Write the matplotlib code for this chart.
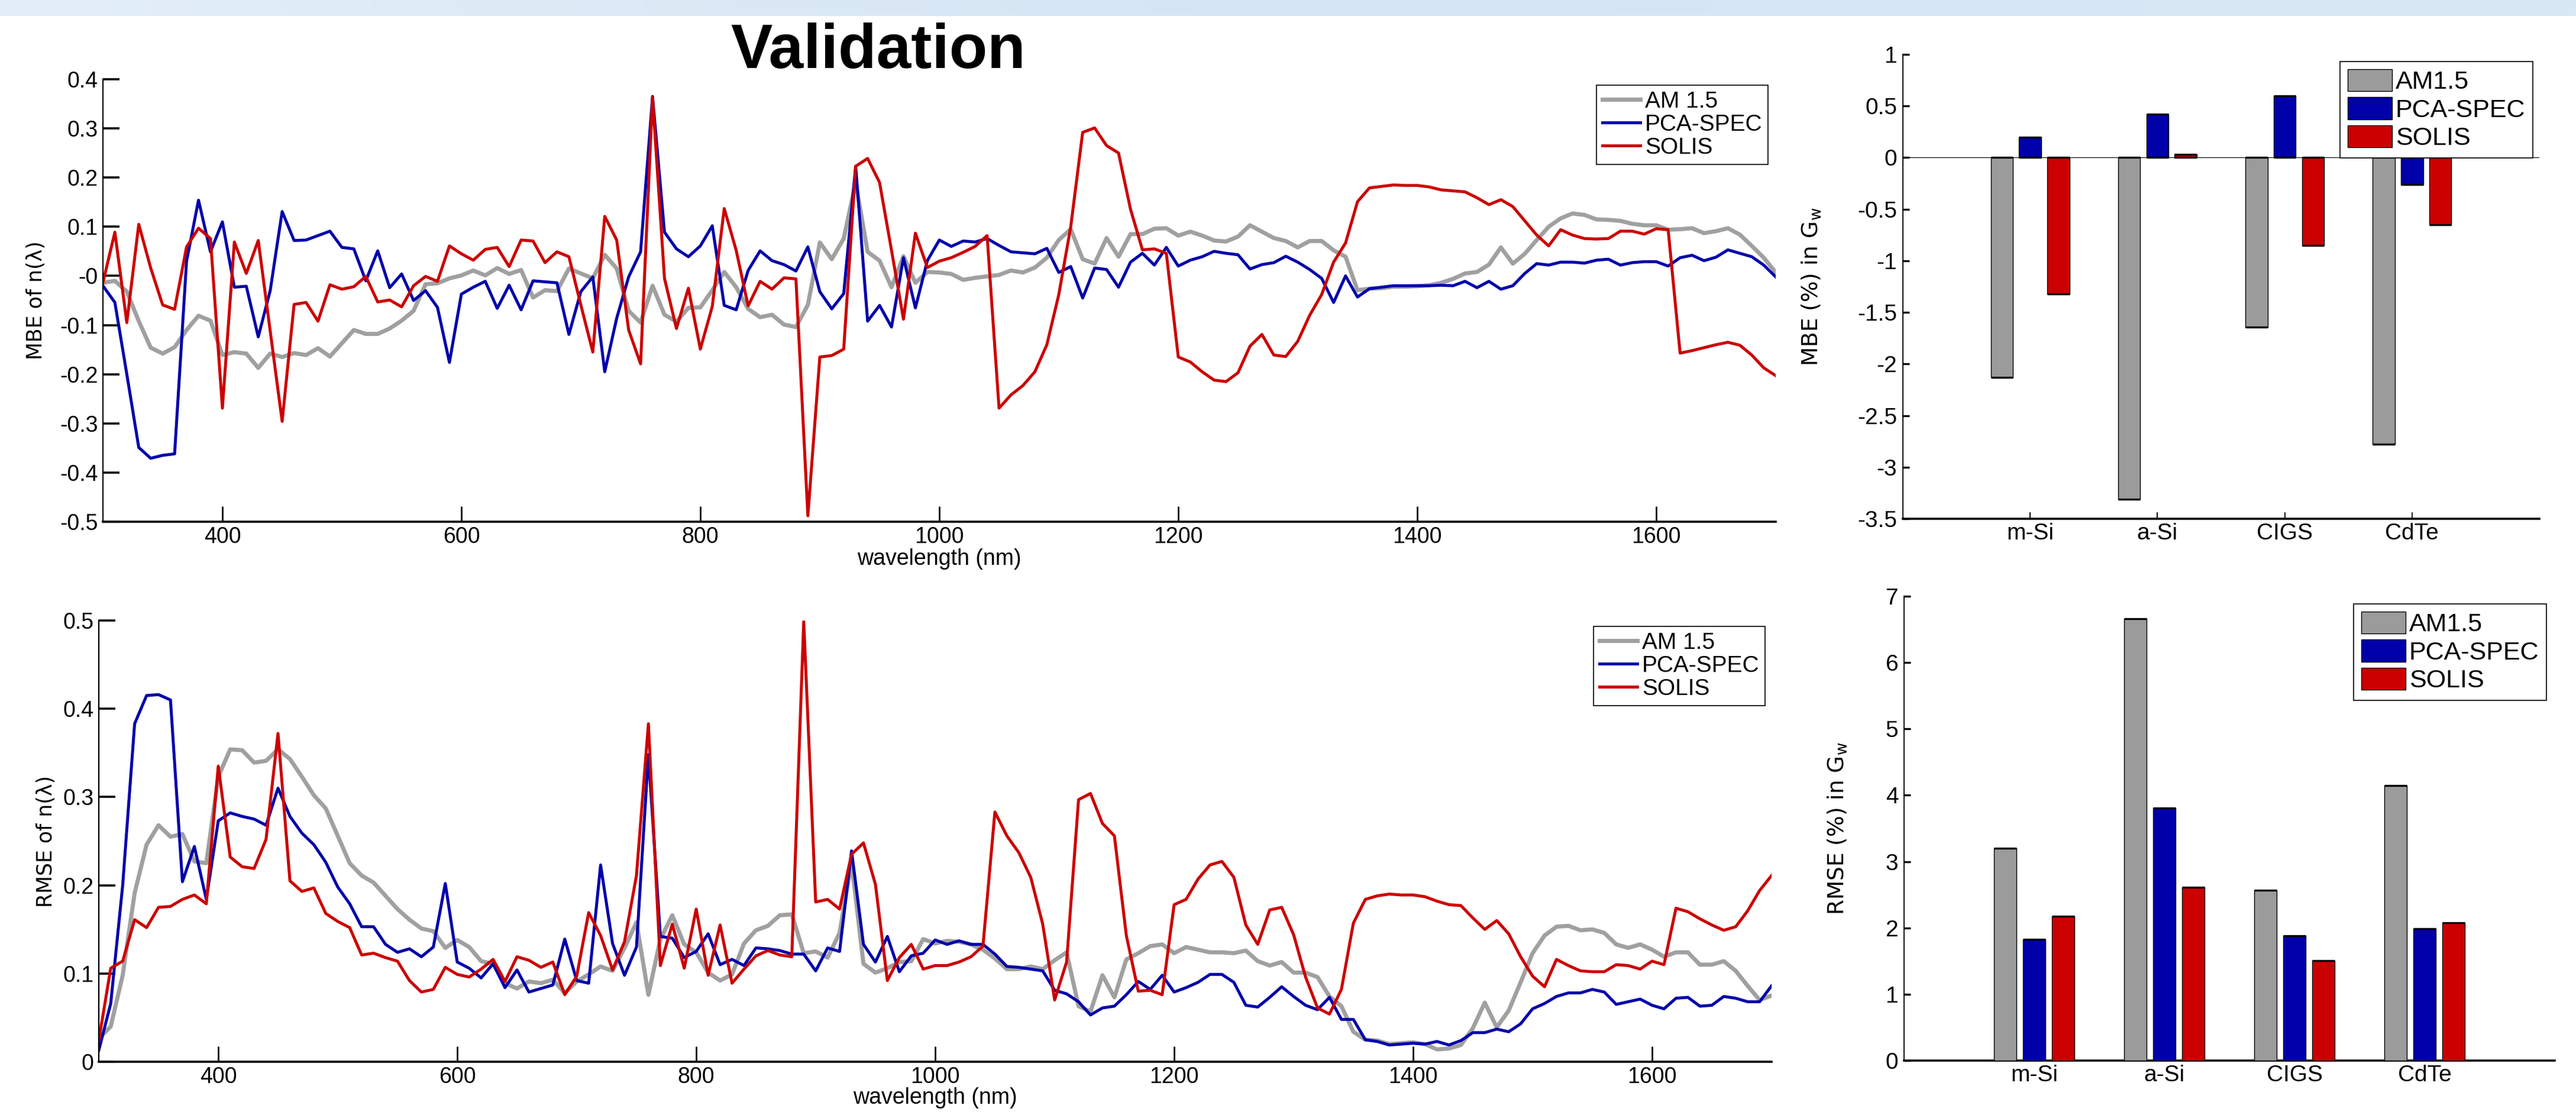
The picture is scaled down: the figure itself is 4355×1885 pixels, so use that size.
import numpy as np
import matplotlib
matplotlib.use("Agg")
import matplotlib.pyplot as plt
from matplotlib.ticker import FuncFormatter
from matplotlib.colors import LinearSegmentedColormap

plt.rcParams['font.family'] = ['Liberation Sans', 'DejaVu Sans']

# ---------------- data ----------------
wavelength = np.arange(300, 1701, 10)

mbe_am15 = [-0.014, -0.010, -0.032, -0.092, -0.146, -0.158, -0.145, -0.110, -0.081, -0.091,
            -0.161, -0.155, -0.158, -0.187, -0.158, -0.165, -0.157, -0.161, -0.147, -0.164,
            -0.137, -0.110, -0.118, -0.118, -0.107, -0.091, -0.071, -0.017, -0.015, -0.005,
            0.001, 0.011, 0.001, 0.016, 0.004, 0.012, -0.044, -0.029, -0.031, 0.015,
            0.005, -0.005, 0.043, 0.015, -0.071, -0.095, -0.020, -0.079, -0.093, -0.065,
            -0.064, -0.029, 0.008, -0.023, -0.067, -0.084, -0.079, -0.099, -0.104, -0.059,
            0.068, 0.034, 0.076, 0.190, 0.049, 0.031, -0.023, 0.040, -0.014, 0.008,
            0.007, 0.004, -0.008, -0.004, -0.001, 0.002, 0.011, 0.007, 0.017, 0.037,
            0.073, 0.095, 0.034, 0.025, 0.077, 0.039, 0.085, 0.085, 0.096, 0.097,
            0.082, 0.090, 0.082, 0.072, 0.070, 0.080, 0.103, 0.090, 0.077, 0.071,
            0.058, 0.071, 0.071, 0.052, 0.039, -0.029, -0.026, -0.025, -0.022, -0.022,
            -0.021, -0.019, -0.014, -0.006, 0.005, 0.008, 0.023, 0.058, 0.025, 0.045,
            0.073, 0.100, 0.117, 0.127, 0.124, 0.115, 0.114, 0.112, 0.106, 0.103,
            0.103, 0.094, 0.095, 0.097, 0.087, 0.091, 0.097, 0.084, 0.061, 0.037,
            0.007]

mbe_pca = [-0.020, -0.054, -0.200, -0.349, -0.371, -0.365, -0.362, 0.030, 0.154, 0.049,
           0.110, -0.023, -0.021, -0.124, -0.030, 0.131, 0.072, 0.073, 0.082, 0.091,
           0.058, 0.055, -0.010, 0.051, -0.024, 0.004, -0.050, -0.030, -0.064, -0.176,
           -0.037, -0.023, -0.011, -0.066, -0.019, -0.069, -0.010, -0.012, -0.014, -0.119,
           -0.032, -0.002, -0.195, -0.086, -0.002, 0.049, 0.365, 0.089, 0.055, 0.039,
           0.061, 0.102, -0.060, -0.069, 0.011, 0.051, 0.031, 0.023, 0.010, 0.059,
           -0.032, -0.067, -0.036, 0.223, -0.092, -0.060, -0.104, 0.037, -0.065, 0.031,
           0.073, 0.060, 0.071, 0.069, 0.076, 0.062, 0.049, 0.047, 0.045, 0.056,
           0.007, 0.019, -0.045, 0.016, 0.013, -0.023, 0.028, 0.046, 0.022, 0.058,
           0.020, 0.032, 0.039, 0.050, 0.046, 0.043, 0.014, 0.023, 0.027, 0.040,
           0.028, 0.013, -0.005, -0.054, 0.000, -0.043, -0.026, -0.023, -0.020, -0.020,
           -0.020, -0.020, -0.019, -0.020, -0.011, -0.024, -0.011, -0.027, -0.020, 0.005,
           0.025, 0.022, 0.028, 0.028, 0.026, 0.032, 0.034, 0.022, 0.027, 0.029,
           0.029, 0.020, 0.037, 0.042, 0.031, 0.038, 0.053, 0.046, 0.039, 0.022,
           -0.002]

mbe_solis = [-0.014, 0.089, -0.095, 0.105, 0.016, -0.059, -0.068, 0.059, 0.097, 0.076,
             -0.269, 0.069, 0.005, 0.072, -0.112, -0.296, -0.058, -0.054, -0.092, -0.018,
             -0.027, -0.022, -0.001, -0.053, -0.049, -0.063, -0.020, -0.001, -0.011, 0.061,
             0.045, 0.032, 0.054, 0.058, 0.019, 0.073, 0.071, 0.027, 0.049, 0.039,
             -0.059, -0.155, 0.121, 0.073, -0.110, -0.179, 0.363, -0.005, -0.107, -0.025,
             -0.149, -0.062, 0.137, 0.052, -0.061, -0.011, -0.027, -0.004, -0.006, -0.488,
             -0.165, -0.162, -0.149, 0.223, 0.239, 0.190, 0.052, -0.088, 0.087, 0.017,
             0.030, 0.037, 0.048, 0.060, 0.082, -0.269, -0.242, -0.223, -0.195, -0.140,
             -0.038, 0.100, 0.292, 0.301, 0.265, 0.250, 0.136, 0.053, 0.055, 0.046,
             -0.165, -0.175, -0.195, -0.212, -0.215, -0.197, -0.143, -0.119, -0.161, -0.164,
             -0.133, -0.080, -0.038, 0.028, 0.067, 0.151, 0.179, 0.182, 0.185, 0.184,
             0.184, 0.181, 0.175, 0.173, 0.171, 0.159, 0.145, 0.155, 0.141, 0.112,
             0.083, 0.061, 0.094, 0.083, 0.076, 0.075, 0.076, 0.091, 0.091, 0.085,
             0.096, 0.094, -0.157, -0.152, -0.146, -0.140, -0.135, -0.141, -0.161, -0.187,
             -0.203]

rmse_am15 = [0.026, 0.040, 0.098, 0.191, 0.246, 0.268, 0.255, 0.258, 0.227, 0.225,
             0.323, 0.354, 0.353, 0.339, 0.341, 0.354, 0.343, 0.323, 0.302, 0.287,
             0.256, 0.225, 0.211, 0.203, 0.188, 0.173, 0.161, 0.151, 0.148, 0.129,
             0.138, 0.130, 0.114, 0.111, 0.089, 0.083, 0.091, 0.089, 0.093, 0.078,
             0.091, 0.099, 0.108, 0.103, 0.129, 0.158, 0.076, 0.139, 0.166, 0.133,
             0.124, 0.101, 0.092, 0.099, 0.134, 0.149, 0.154, 0.166, 0.167, 0.123,
             0.125, 0.118, 0.146, 0.226, 0.111, 0.101, 0.106, 0.113, 0.114, 0.139,
             0.134, 0.137, 0.136, 0.133, 0.127, 0.117, 0.105, 0.105, 0.108, 0.105,
             0.115, 0.124, 0.063, 0.057, 0.098, 0.073, 0.116, 0.123, 0.131, 0.133,
             0.123, 0.130, 0.127, 0.124, 0.124, 0.123, 0.126, 0.114, 0.109, 0.113,
             0.101, 0.101, 0.096, 0.074, 0.063, 0.034, 0.025, 0.024, 0.020, 0.021,
             0.022, 0.020, 0.014, 0.015, 0.019, 0.038, 0.067, 0.039, 0.058, 0.090,
             0.123, 0.143, 0.153, 0.154, 0.149, 0.150, 0.146, 0.133, 0.129, 0.133,
             0.127, 0.119, 0.124, 0.124, 0.110, 0.110, 0.114, 0.103, 0.086, 0.070,
             0.075]

rmse_pca = [0.013, 0.066, 0.200, 0.383, 0.415, 0.416, 0.410, 0.204, 0.244, 0.184,
            0.273, 0.282, 0.278, 0.275, 0.268, 0.310, 0.278, 0.259, 0.246, 0.226,
            0.198, 0.179, 0.153, 0.153, 0.133, 0.124, 0.128, 0.119, 0.130, 0.202,
            0.113, 0.106, 0.095, 0.111, 0.084, 0.104, 0.079, 0.083, 0.087, 0.139,
            0.092, 0.089, 0.223, 0.134, 0.098, 0.130, 0.348, 0.142, 0.140, 0.118,
            0.125, 0.145, 0.110, 0.116, 0.109, 0.129, 0.128, 0.126, 0.122, 0.122,
            0.103, 0.129, 0.125, 0.239, 0.133, 0.113, 0.142, 0.102, 0.120, 0.123,
            0.138, 0.133, 0.137, 0.133, 0.133, 0.122, 0.108, 0.107, 0.105, 0.103,
            0.081, 0.077, 0.068, 0.053, 0.061, 0.063, 0.076, 0.091, 0.082, 0.098,
            0.079, 0.084, 0.090, 0.099, 0.099, 0.090, 0.064, 0.062, 0.073, 0.085,
            0.074, 0.064, 0.059, 0.073, 0.048, 0.048, 0.025, 0.023, 0.019, 0.020,
            0.021, 0.020, 0.023, 0.019, 0.024, 0.033, 0.033, 0.037, 0.034, 0.043,
            0.060, 0.066, 0.074, 0.078, 0.078, 0.082, 0.079, 0.065, 0.068, 0.071,
            0.064, 0.060, 0.072, 0.073, 0.063, 0.064, 0.074, 0.072, 0.068, 0.068,
            0.086]

rmse_solis = [0.024, 0.106, 0.114, 0.161, 0.152, 0.175, 0.176, 0.184, 0.189, 0.179,
              0.335, 0.232, 0.221, 0.219, 0.252, 0.372, 0.205, 0.193, 0.197, 0.168,
              0.159, 0.152, 0.121, 0.123, 0.118, 0.114, 0.092, 0.079, 0.082, 0.107,
              0.099, 0.096, 0.105, 0.116, 0.091, 0.119, 0.115, 0.107, 0.113, 0.076,
              0.097, 0.169, 0.143, 0.104, 0.136, 0.211, 0.383, 0.109, 0.156, 0.106,
              0.173, 0.098, 0.155, 0.089, 0.105, 0.120, 0.126, 0.121, 0.119, 0.499,
              0.181, 0.184, 0.173, 0.235, 0.248, 0.201, 0.092, 0.118, 0.133, 0.105,
              0.109, 0.109, 0.113, 0.119, 0.131, 0.283, 0.256, 0.237, 0.209, 0.156,
              0.070, 0.113, 0.297, 0.304, 0.270, 0.256, 0.143, 0.080, 0.081, 0.076,
              0.178, 0.184, 0.207, 0.223, 0.227, 0.209, 0.155, 0.133, 0.172, 0.175,
              0.144, 0.096, 0.061, 0.054, 0.082, 0.157, 0.184, 0.188, 0.190, 0.189,
              0.189, 0.187, 0.182, 0.178, 0.177, 0.163, 0.150, 0.160, 0.145, 0.119,
              0.097, 0.085, 0.116, 0.109, 0.103, 0.102, 0.102, 0.110, 0.109, 0.105,
              0.114, 0.110, 0.174, 0.170, 0.162, 0.155, 0.149, 0.153, 0.171, 0.194,
              0.211]

cells = ['m-Si', 'a-Si', 'CIGS', 'CdTe']
bar_mbe_am15 = [-2.13, -3.31, -1.64, -2.78]
bar_mbe_pca = [0.20, 0.42, 0.60, -0.26]
bar_mbe_solis = [-1.32, 0.03, -0.85, -0.65]
bar_rmse_am15 = [3.20, 6.66, 2.57, 4.15]
bar_rmse_pca = [1.83, 3.81, 1.88, 1.99]
bar_rmse_solis = [2.18, 2.61, 1.51, 2.08]

series_names = ['AM 1.5', 'PCA-SPEC', 'SOLIS']
bar_names = ['AM1.5', 'PCA-SPEC', 'SOLIS']

# ---------------- style ----------------
W, H = 4355, 1885
GRAY, BLUE, RED = '#a0a0a0', '#0000aa', '#cc0000'
BGRAY = '#9b9b9b'
TICK_FS = 27
fig = plt.figure(figsize=(W / 100, H / 100), dpi=100)


def rect(l, t, r, b):
    return [l / W, 1 - b / H, (r - l) / W, (b - t) / H]


fmt = FuncFormatter(lambda v, p: '%g' % round(v, 6))

# top band
band = fig.add_axes([0, 1 - 27 / H, 1, 27 / H])
grad = np.linspace(0, 1, 256).reshape(1, -1)
cmap = LinearSegmentedColormap.from_list('b', ['#e3eef8', '#d5e5f4', '#d9e8f5'])
band.imshow(grad, aspect='auto', cmap=cmap)
band.axis('off')


def style_line_axes(ax, ylim, yticks):
    ax.set_xlim(300, 1700)
    ax.set_ylim(*ylim)
    ax.set_xticks([400, 600, 800, 1000, 1200, 1400, 1600])
    ax.set_yticks(yticks)
    ax.yaxis.set_major_formatter(fmt)
    for s in ['top', 'right']:
        ax.spines[s].set_visible(False)
    ax.spines['left'].set_linewidth(1.7)
    ax.spines['bottom'].set_linewidth(2.6)
    ax.tick_params(axis='y', direction='in', length=20, width=2.6, pad=6,
                   labelsize=TICK_FS)
    ax.tick_params(axis='x', direction='in', length=19, width=1.9, pad=6,
                   labelsize=TICK_FS)


def draw_lines(ax, a, b, c):
    l1, = ax.plot(wavelength, a, color=GRAY, lw=5.0, label=series_names[0])
    l2, = ax.plot(wavelength, b, color=BLUE, lw=3.6, label=series_names[1])
    l3, = ax.plot(wavelength, c, color=RED, lw=3.6, label=series_names[2])
    return [l1, l2, l3]


def line_legend(ax, h, right, top):
    leg = ax.legend(handles=h, loc='upper right', bbox_to_anchor=(right / W, 1 - top / H),
                    bbox_transform=fig.transFigure, borderaxespad=0, fancybox=False,
                    edgecolor='black', framealpha=1, fontsize=28, handlelength=1.65,
                    handletextpad=0.2, labelspacing=0.08, borderpad=0.25)
    leg.get_frame().set_linewidth(1.2)


# MBE line plot
ax1 = fig.add_axes(rect(174, 134, 3002, 882))
h = draw_lines(ax1, mbe_am15, mbe_pca, mbe_solis)
style_line_axes(ax1, (-0.5, 0.4), np.round(np.arange(-0.5, 0.41, 0.1), 1))
ax1.set_xlabel('wavelength (nm)', fontsize=27)
ax1.xaxis.set_label_coords(0.5, -0.060)
ax1.set_ylabel('MBE of n(λ)', fontsize=25, family='DejaVu Sans')
ax1.yaxis.set_label_coords(-0.034, 0.5)
line_legend(ax1, h, 2989, 144)

# RMSE line plot
ax2 = fig.add_axes(rect(167, 1049, 2995, 1795))
h = draw_lines(ax2, rmse_am15, rmse_pca, rmse_solis)
style_line_axes(ax2, (0, 0.5), np.round(np.arange(0, 0.51, 0.1), 1))
ax2.set_xlabel('wavelength (nm)', fontsize=27)
ax2.xaxis.set_label_coords(0.5, -0.058)
ax2.set_ylabel('RMSE of n(λ)', fontsize=25, family='DejaVu Sans')
ax2.yaxis.set_label_coords(-0.0255, 0.5)
line_legend(ax2, h, 2984, 1059)

# Bar charts
xpos = np.arange(1, len(cells) + 1)
offsets = [-0.222, 0.0, 0.222]
bw = 0.175
bar_colors = [BGRAY, BLUE, RED]


def draw_bars(ax, groups, zero_line):
    handles = []
    for vals, off, col, name in zip(groups, offsets, bar_colors, bar_names):
        xs = xpos + off
        b = ax.bar(xs, vals, bw, color=col, edgecolor='black', linewidth=1.0,
                   label=name, zorder=3)
        ax.hlines(vals, xs - bw / 2, xs + bw / 2, colors='black', lw=2.4, zorder=4)
        if zero_line:
            ax.hlines(np.zeros(len(vals)), xs - bw / 2, xs + bw / 2, colors='black',
                      lw=2.4, zorder=4)
        handles.append(b)
    ax.set_xlim(0, 5)
    ax.set_xticks(xpos, cells)
    for s in ['top', 'right']:
        ax.spines[s].set_visible(False)
    ax.spines['left'].set_linewidth(1.5)
    ax.spines['bottom'].set_linewidth(2.6)
    ax.yaxis.set_major_formatter(fmt)
    ax.tick_params(axis='y', direction='in', length=8, width=2.4, pad=7, labelsize=28)
    ax.tick_params(axis='x', direction='in', length=8, width=1.4, pad=5, labelsize=28)
    return handles


def bar_legend(ax, hb, right, top):
    leg = ax.legend(handles=hb, loc='upper right', bbox_to_anchor=(right / W, 1 - top / H),
                    bbox_transform=fig.transFigure, borderaxespad=0, fancybox=False,
                    edgecolor='black', framealpha=1, fontsize=31, handlelength=1.75,
                    handleheight=0.95, handletextpad=0.12, labelspacing=0.12,
                    borderpad=0.3)
    leg.get_frame().set_linewidth(1.2)


ax3 = fig.add_axes(rect(3217, 92, 4293, 877))
ax3.axhline(0, color='black', lw=0.8, zorder=2)
hb = draw_bars(ax3, [bar_mbe_am15, bar_mbe_pca, bar_mbe_solis], True)
ax3.set_ylim(-3.5, 1)
ax3.set_yticks(np.arange(-3.5, 1.01, 0.5))
ax3.set_ylabel(r'MBE (%) in $\mathregular{G_w}$', fontsize=27, family='DejaVu Sans')
ax3.yaxis.set_label_coords(-0.125, 0.5)
bar_legend(ax3, hb, 4282, 104)

ax4 = fig.add_axes(rect(3219, 1008, 4319, 1793))
hb = draw_bars(ax4, [bar_rmse_am15, bar_rmse_pca, bar_rmse_solis], False)
ax4.set_ylim(0, 7)
ax4.set_yticks(np.arange(0, 8, 1))
ax4.set_ylabel(r'RMSE (%) in $\mathregular{G_w}$', fontsize=27, family='DejaVu Sans')
ax4.yaxis.set_label_coords(-0.085, 0.5)
bar_legend(ax4, hb, 4305, 1021)

fig.text(1485 / W, 1 - 115 / H, 'Validation', ha='center', va='baseline',
         fontsize=76, fontweight='bold', family='Liberation Sans')

fig.savefig('out.png', dpi=100, facecolor='white')
